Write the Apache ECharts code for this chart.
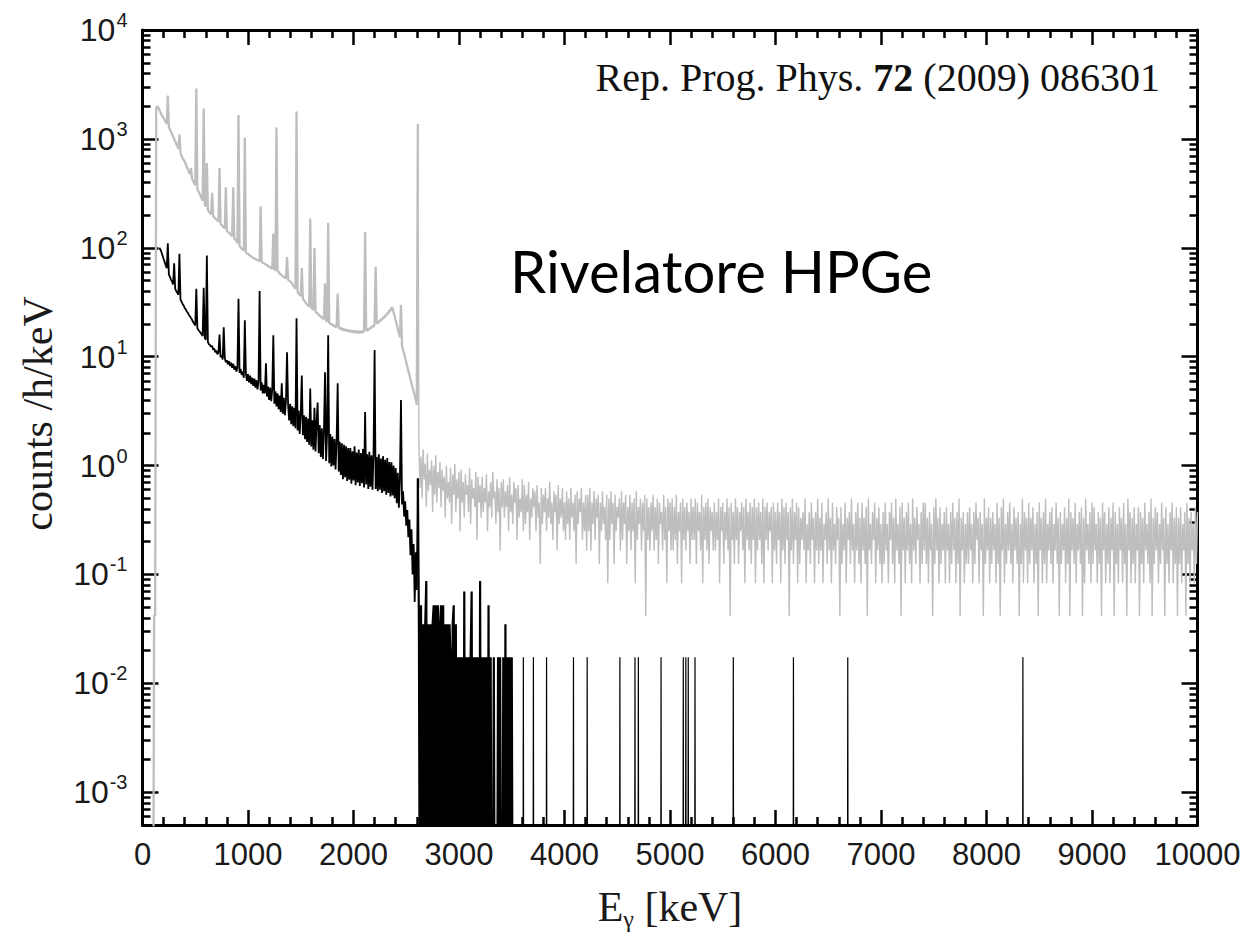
<!DOCTYPE html>
<html><head><meta charset="utf-8">
<script src="https://cdn.jsdelivr.net/npm/echarts@6/dist/echarts.min.js"></script>
<style>html,body{margin:0;padding:0;background:#fff}#c{width:1245px;height:935px}</style>
</head><body><div id="c"></div>
<script>
// ---------------- data ----------------
const ZERO_COUNTS = 1e-5; // empty bins: drawn below the axis floor (log axis)

// grey spectrum, 100..2610 keV, 10 keV bins, counts/h/keV
const greyLowStart = 100, greyLowStep = 10;
const greyLow = [
  0, 0.042, 0.042, 1900, 2000, 1930, 1850, 1760, 1680, 1610,
  1550, 1490, 1430, 1370, 2500, 1280, 1220, 1160, 1110, 1050,
  1000, 950, 900, 860, 810, 1100, 740, 700, 665, 640,
  620, 585, 555, 525, 500, 475, 540, 430, 410, 390,
  375, 2900, 345, 330, 315, 300, 285, 270, 1900, 250,
  240, 600, 222, 215, 208, 202, 320, 194, 190, 186,
  182, 178, 174, 540, 166, 162, 158, 154, 150, 360,
  143, 140, 137, 134, 131, 128, 360, 122, 119, 116,
  110, 1660, 104, 101, 98, 96, 94, 1030, 90, 89,
  88, 86, 85, 83, 82, 81, 80, 79, 78, 77,
  76, 75, 240, 74, 73, 72, 71, 70, 69, 68,
  67, 66, 65, 64, 135, 63, 62, 1280, 61, 60,
  58, 57, 56, 55, 54, 53, 52, 82, 51, 50,
  49, 48, 46.5, 45, 43.5, 42, 1780, 39, 38, 37,
  36, 65, 34, 33, 32, 31, 30.2, 29.5, 28.8, 186,
  28, 27.4, 26.8, 100, 25.8, 25.3, 24.8, 24.3, 23.8, 23.3,
  22.9, 22.5, 22.1, 47, 21.4, 21, 170, 20.4, 20.1, 19.8,
  19.9, 19, 19.5, 18.5, 19.1, 38, 18.8, 17.9, 18.6, 17.5,
  18.2, 17.3, 18, 17.1, 17.8, 16.9, 17.7, 16.8, 17.5, 16.7,
  17.4, 16.6, 17.3, 16.5, 17.3, 16.4, 17.2, 16.5, 17.3, 16.6,
  17.5, 140, 17.8, 17.2, 18.2, 17.6, 18.7, 18.2, 19.3, 18.8,
  19.9, 67, 20.6, 20.1, 21.4, 20.9, 22.2, 21.7, 23, 22.6,
  24, 23.7, 25.2, 24.8, 26.6, 26.4, 28.2, 28, 25.6, 23.5,
  21.5, 19.7, 18, 16.5, 15.1, 30, 12.6, 11.5, 10.6, 9.7,
  8.9, 8.1, 7.4, 6.8, 6.2, 5.7, 5.2, 4.8, 4.4, 4.0,
  3.6, 1370
];

// grey spectrum above 2615 keV: counts per 10 keV bin, 2620..10000 keV
const greyTailStart = 2620, greyTailStep = 10, greyCountRate = 0.0415;
const greyTailCounts = [
  40,15,29,12,34,18,25,10,31,14,22,16,27,9,24,13,30,11,21,15,
  26,10,22,14,19,8,24,12,17,11,23,7,20,13,25,9,18,12,21,6,
  22,11,17,8,20,13,16,9,23,7,18,12,15,10,21,5,19,11,16,8,
  19,9,15,11,20,6,14,10,17,8,21,12,14,7,18,9,15,4,17,10,
  18,8,14,10,16,6,19,9,13,7,17,11,15,5,16,8,12,9,18,6,
  16,7,13,9,17,5,12,8,15,10,14,6,16,8,11,3,15,7,13,9,
  15,6,12,8,17,7,11,5,14,9,13,4,16,7,12,8,15,6,11,5,
  14,7,12,5,15,8,11,6,13,3,14,7,12,9,15,5,11,6,13,4,
  13,6,15,4,11,7,14,5,12,8,13,3,11,6,14,7,10,5,13,2,
  12,5,14,7,11,3,13,6,10,8,12,4,14,5,11,7,13,3,10,6,
  13,4,11,6,12,2,14,5,10,7,12,4,11,6,13,1,12,5,10,4,
  11,6,13,4,10,5,12,3,11,7,9,4,13,5,10,2,12,6,11,4,
  12,4,10,5,13,3,9,6,11,2,12,5,10,4,11,6,9,3,12,5,
  10,5,12,3,11,6,9,4,13,2,10,5,11,4,12,3,10,6,9,4,
  11,4,9,5,12,2,10,6,11,3,9,5,12,4,10,1,11,5,9,3,
  12,5,10,3,9,6,11,4,10,2,12,5,9,4,11,3,10,5,12,2,
  10,4,11,5,9,3,12,2,10,5,11,4,9,6,10,2,11,4,9,3,
  11,5,9,2,12,4,10,3,11,5,9,1,10,4,12,3,9,5,11,2,
  10,3,8,5,9,4,12,2,7,4,9,3,11,5,8,2,9,4,12,3,
  8,4,11,2,7,5,9,3,12,4,8,2,11,4,7,3,10,5,8,1,
  10,3,7,4,11,2,8,5,9,3,12,4,7,2,9,4,11,3,8,2,
  11,4,8,3,10,1,12,4,7,3,9,5,11,2,8,4,10,3,7,2,
  9,3,11,4,7,2,9,5,11,3,8,2,12,4,7,3,10,1,11,4,
  8,2,9,4,11,3,7,2,12,4,8,3,10,5,7,2,9,3,11,4,
  11,3,8,2,9,4,7,1,10,3,12,4,8,2,10,3,7,4,9,2,
  10,4,7,2,9,3,11,4,8,2,9,3,12,1,8,4,9,2,7,3,
  9,3,10,4,7,2,9,3,11,5,8,2,9,4,7,1,12,3,8,4,
  10,2,8,3,9,4,7,2,11,3,8,1,10,4,12,2,7,3,9,4,
  11,3,7,2,10,4,8,3,9,1,7,3,12,2,9,4,8,2,11,3,
  8,4,10,2,7,3,9,1,11,4,8,2,9,3,12,2,7,4,9,3,
  10,2,7,4,11,3,8,1,9,3,7,4,10,2,8,3,12,1,9,4,
  8,3,11,2,7,4,9,3,10,1,8,2,12,4,7,3,9,2,11,3,
  10,4,7,2,9,3,8,1,11,4,9,2,7,3,10,2,8,4,11,1,
  9,3,7,2,10,4,8,2,11,3,7,1,12,4,9,2,8,3,10,2,
  7,4,10,1,9,3,8,2,11,4,7,3,9,2,12,1,8,3,10,4,
  9,2,7,3,11,4,8,1,10,3,7,2,9,4,11,2,8,3,10,1,
  8,3,10,2,7,4,9,1,11,3,8,2,9,4,7,2,10,3,9
];

// black spectrum, 160..2610 keV, 10 keV bins, counts/h/keV
const blackLowStart = 160, blackLowStep = 10;
const blackLow = [
  100, 96, 91, 85, 79, 74, 69, 65, 110, 57,
  54, 51, 49, 46, 72, 42, 40, 38.5, 37, 88,
  33.5, 32, 30.5, 29.5, 28, 27.2, 26, 25.3, 24.2, 23.4,
  22.6, 21.8, 20.7, 20.1, 19.3, 42, 18.2, 17.6, 17.1, 16.6,
  16.1, 15.5, 43, 14.9, 14.3, 85, 13.6, 13, 12.8, 12.3,
  12.6, 11.6, 11.9, 11, 11.4, 10.5, 10.9, 16, 9.9, 10.3,
  9.4, 18.6, 9.7, 8.9, 9.3, 8.5, 9.1, 8.2, 8.8, 7.9,
  8.6, 7.6, 8.2, 7.3, 7.9, 34, 7.1, 7.7, 6.8, 7.3,
  6.4, 21.6, 7.0, 6.0, 6.9, 5.8, 6.7, 5.6, 6.4, 5.4,
  6.3, 5.2, 6.1, 5.0, 5.9, 40, 4.9, 5.8, 4.6, 5.5,
  4.6, 8.7, 4.3, 5.3, 4.0, 5.2, 3.9, 5.0, 15.7, 3.7,
  4.8, 3.5, 4.6, 3.3, 4.4, 3.1, 5.7, 3.0, 4.2, 2.9,
  4.0, 11, 3.6, 2.6, 3.7, 2.4, 3.5, 2.3, 3.4, 2.2,
  22.5, 2.1, 3.2, 1.95, 3.0, 6.7, 1.9, 2.9, 1.75, 2.8,
  1.65, 2.7, 1.55, 5.1, 1.5, 2.6, 1.4, 3.4, 1.35, 2.5,
  3.8, 1.3, 2.35, 1.2, 2.2, 1.15, 2.1, 7.2, 1.1, 2.0,
  15.7, 1.05, 1.95, 0.98, 1.85, 1.0, 1.75, 0.92, 1.7, 5.7,
  0.88, 1.65, 0.82, 1.6, 0.75, 1.55, 0.78, 1.5, 0.72, 1.45,
  0.74, 1.45, 0.68, 1.35, 0.73, 1.5, 0.66, 1.32, 0.7, 1.4,
  0.65, 1.3, 0.69, 1.42, 0.63, 3.1, 0.67, 1.27, 0.61, 1.34,
  0.64, 1.24, 0.6, 1.3, 11.5, 0.61, 1.2, 0.58, 1.27, 0.6,
  1.16, 0.56, 1.22, 0.58, 1.13, 0.54, 1.17, 0.56, 1.08, 0.52,
  1.07, 0.53, 1.0, 0.5, 0.95, 0.45, 0.86, 0.41, 0.75, 4.0,
  0.44, 0.58, 0.34, 0.47, 0.28, 0.39, 0.22, 0.32, 0.15, 0.26,
  0.1, 0.19, 0.056, 0.16, 0.072, 0.76
];

// black spectrum 2620..3520 keV: counts per 10 keV bin
const blackBlockStart = 2620, blackBlockStep = 10, blackCountRate = 0.0174;
const blackBlockCounts = [
  2, 0, 3, 0, 2, 0, 2, 5, 0, 2,
  0, 2, 0, 2, 3, 0, 3, 0, 3, 0,
  2, 3, 0, 3, 0, 2, 0, 2, 0, 2,
  1, 0, 2, 3, 0, 2, 0, 1, 0, 1,
  0, 1, 0, 4, 0, 1, 0, 1, 0, 1,
  4, 0, 1, 0, 1, 0, 1, 0, 5, 0,
  1, 0, 1, 0, 1, 0, 3, 0, 1, 0,
  0, 1, 0, 0, 0, 1, 0, 1, 0, 0,
  1, 0, 2, 0, 1, 0, 1, 0, 1, 0,
  0
];

// isolated black events above 3520 keV
const blackEventEnergies = [3610, 3705, 3830, 4085, 4215, 4525, 4668, 4700, 4915, 5126, 5150, 5173, 5237, 5600, 6170, 6685, 8345];
const blackEventCounts   = [1, 1, 1, 1, 1, 1, 1, 1, 1, 1, 1, 1, 1, 1, 1, 1, 1];

// axes
const xTickValues = [0, 1000, 2000, 3000, 4000, 5000, 6000, 7000, 8000, 9000, 10000];
const xTickLabels = ['0', '1000', '2000', '3000', '4000', '5000', '6000', '7000', '8000', '9000', '10000'];
const yMajorTicks = [1e-3, 1e-2, 1e-1, 1, 10, 100, 1000, 10000];
const yTickExponents = ['-3', '-2', '-1', '0', '1', '2', '3', '4'];
const yMinorMultipliers = [2, 3, 4, 5, 6, 7, 8, 9];
const yMin = 5e-4, yMax = 1e4;

// ---------------- build ----------------
const pos = v => (v > 0 ? v : ZERO_COUNTS);
const binned = (start, step, vals, scale) => vals.map((v, i) => [start + i * step, pos(v * scale)]);

const greyLowData = binned(greyLowStart, greyLowStep, greyLow, 1);
const greyTailData = [greyLowData[greyLowData.length - 1]]
  .concat(binned(greyTailStart, greyTailStep, greyTailCounts, greyCountRate));
const blackLowData = binned(blackLowStart, blackLowStep, blackLow, 1);
const blackBlockData = [blackLowData[blackLowData.length - 1]]
  .concat(binned(blackBlockStart, blackBlockStep, blackBlockCounts, blackCountRate));
const blackEventData = [];
blackEventEnergies.forEach((e, i) => {
  blackEventData.push([e - 4, ZERO_COUNTS], [e, blackEventCounts[i] * blackCountRate], [e + 4, ZERO_COUNTS]);
});

const yMinorTicks = [];
[1e-4, 1e-3, 1e-2, 1e-1, 1, 10, 100, 1000].forEach(d => {
  yMinorMultipliers.forEach(m => { const v = m * d; if (v > yMin * 1.01 && v < yMax) yMinorTicks.push(v); });
});

const AX = '#000', LBL = '#1a1a1a';
const tickStyle = { color: AX, width: 2.5 };

function xAxisCfg(position, showLabel) {
  return {
    type: 'value', position, min: 0, max: 10000, interval: 1000,
    axisLine: { show: true, onZero: false, lineStyle: { color: AX, width: 3 } },
    axisTick: { show: true, inside: true, length: 15, lineStyle: tickStyle },
    minorTick: { show: true, splitNumber: 5, length: 8, lineStyle: tickStyle },
    splitLine: { show: false }, minorSplitLine: { show: false },
    axisLabel: {
      show: showLabel, margin: 14, fontSize: 31, fontFamily: 'Liberation Sans', color: LBL,
      formatter: v => { const i = xTickValues.indexOf(v); return i < 0 ? '' : xTickLabels[i]; }
    }
  };
}
function yAxisCfg(position, ticks, len, showLine, showLabel) {
  return {
    type: 'log', logBase: 10, position, min: yMin, max: yMax,
    axisLine: { show: showLine, onZero: false, lineStyle: { color: AX, width: 3 } },
    axisTick: { show: true, inside: true, length: len, customValues: ticks, lineStyle: tickStyle },
    minorTick: { show: false }, splitLine: { show: false },
    axisLabel: showLabel ? {
      show: true, margin: 15, customValues: yMajorTicks,
      fontSize: 32, fontFamily: 'Liberation Sans', color: LBL, lineHeight: 40,
      formatter: v => {
        const i = yMajorTicks.findIndex(t => Math.abs(Math.log10(t) - Math.log10(v)) < 1e-6);
        return i < 0 ? '' : '10{s|' + yTickExponents[i] + '}';
      },
      rich: {
        s: { fontSize: 20, fontFamily: 'Liberation Sans', color: LBL, verticalAlign: 'top', padding: [0, 0, 0, 1] }
      }
    } : { show: false }
  };
}

const xA = xAxisCfg('bottom', true);
xA.name = '{e|E}{g|γ}{e| [keV]}';
xA.nameLocation = 'middle';
xA.nameGap = 58;
xA.nameTextStyle = { fontSize: 42, fontFamily: 'Liberation Serif', color: LBL, rich: {
  e: { fontSize: 42, fontFamily: 'Liberation Serif', color: LBL, lineHeight: 48 },
  g: { fontSize: 24, fontFamily: 'Liberation Serif', color: LBL, verticalAlign: 'bottom' }
} };

const yA = yAxisCfg('left', yMajorTicks, 16, true, true);
yA.name = 'counts /h/keV';
yA.nameLocation = 'middle';
yA.nameGap = 84;
yA.nameTextStyle = { fontSize: 42, fontFamily: 'Liberation Serif', color: LBL, padding: [0, 0, 0, 28] };

const lineBase = { type: 'line', xAxisIndex: 0, yAxisIndex: 0, showSymbol: false, symbol: 'none', silent: true, animation: false, clip: true };
const GREY = '#bebebe';

const chart = echarts.init(document.getElementById('c'), null, { renderer: 'svg' });
chart.setOption({
  animation: false,
  backgroundColor: '#fff',
  grid: { left: 142.5, right: 47.5, top: 30, bottom: 110, containLabel: false, outerBoundsMode: 'none' },
  xAxis: [xA, xAxisCfg('top', false)],
  yAxis: [
    yA,
    yAxisCfg('left', yMinorTicks, 8, false, false),
    yAxisCfg('right', yMajorTicks, 16, true, false),
    yAxisCfg('right', yMinorTicks, 8, false, false)
  ],
  series: [
    Object.assign({}, lineBase, { name: 'greyLow', data: greyLowData, z: 2, lineStyle: { color: GREY, width: 2.3 } }),
    Object.assign({}, lineBase, { name: 'greyTail', data: greyTailData, z: 2, lineStyle: { color: GREY, width: 1.4 } }),
    Object.assign({}, lineBase, { name: 'black', data: blackLowData, z: 3, lineStyle: { color: '#000', width: 1.8 } }),
    Object.assign({}, lineBase, { name: 'blackBlock', data: blackBlockData, z: 3, lineStyle: { color: '#000', width: 2.2 } }),
    Object.assign({}, lineBase, { name: 'blackEvents', data: blackEventData, z: 3, lineStyle: { color: '#000', width: 1.2 } })
  ],
  graphic: [
    { type: 'text', x: 1160, y: 77, z: 10, style: {
      text: '{n|Rep. Prog. Phys. }{b|72}{n| (2009) 086301}',
      align: 'right', textAlign: 'right', verticalAlign: 'middle', textVerticalAlign: 'middle',
      rich: {
        n: { fontSize: 40, fontFamily: 'Liberation Serif', fill: '#111' },
        b: { fontSize: 40, fontFamily: 'Liberation Serif', fontWeight: 'bold', fill: '#111' }
      }
    } },
    { type: 'text', x: 510, y: 270, z: 10, style: {
      text: 'Rivelatore HPGe', fontSize: 58, fontFamily: 'Lato', fill: '#000',
      align: 'left', textAlign: 'left', verticalAlign: 'middle', textVerticalAlign: 'middle'
    } }
  ]
});
</script>
</body></html>
